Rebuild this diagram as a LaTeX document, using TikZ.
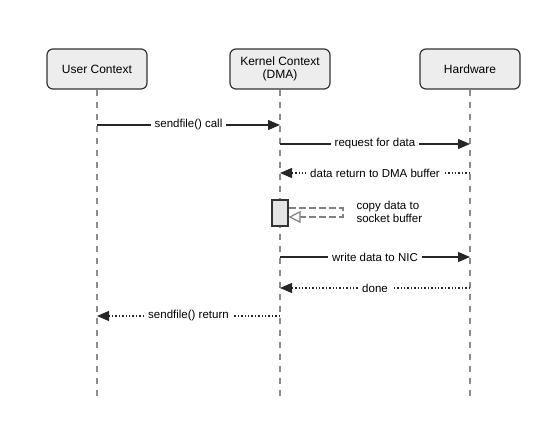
\documentclass[tikz,border=0pt]{standalone}
\usepackage{fontspec}
\setmainfont{Liberation Sans}
\usetikzlibrary{arrows.meta}

\begin{document}
\begin{tikzpicture}[x=1pt,y=-1pt,font=\fontsize{11.5}{13.5}\selectfont,>={Triangle[length=12pt,width=10pt]},
  actor/.style={draw=black!80,line width=1.2pt,fill=black!7,rounded corners=6pt,minimum width=100pt,minimum height=40pt,align=center,font=\fontsize{12}{13.5}\selectfont},
  lifeline/.style={black!45,line width=1.6pt,dash pattern=on 6pt off 6pt},
  call/.style={->,black!85,line width=1.2pt},
  reply/.style={->,black!85,line width=1.2pt,dash pattern=on 1.4pt off 2pt},
  msg/.style={fill=white,inner xsep=4pt,inner ysep=1.5pt,text=black}]
  \useasboundingbox (0,0) rectangle (540,422);
  % participants
  \node[actor] (user) at (97,69) {User Context};
  \node[actor] (kernel) at (280,69) {Kernel Context\\(DMA)};
  \node[actor] (hw) at (470,69) {Hardware};
  \coordinate (userend) at (97,398);
  \coordinate (kernelend) at (280,398);
  \coordinate (hwend) at (470,398);
  \draw[lifeline] (user.south) -- (userend);
  \draw[lifeline] (kernel.south) -- (kernelend);
  \draw[lifeline] (hw.south) -- (hwend);
  % message points on the lifelines
  \coordinate (u1) at (97,125);   \coordinate (k1) at (280,125);
  \coordinate (k2) at (280,144);  \coordinate (h2) at (470,144);
  \coordinate (k3) at (280,173);  \coordinate (h3) at (470,173);
  \coordinate (k4) at (280,257);  \coordinate (h4) at (470,257);
  \coordinate (k5) at (280,288);  \coordinate (h5) at (470,288);
  \coordinate (u6) at (97,316);   \coordinate (k6) at (280,316);
  \draw[call] (u1) -- node[msg] {sendfile() call} (k1);
  \draw[call] (k2) -- node[msg] {request for data} (h2);
  \draw[reply] (h3) -- node[msg] {data return to DMA buffer} (k3);
  % self call
  \node[draw=black!80,line width=1.2pt,fill=black!10,minimum width=16pt,minimum height=26pt,inner sep=0pt] (act) at (280,213) {};
  \coordinate (s1) at (343,208);
  \coordinate (s2) at (343,217);
  \draw[black!50,line width=1.2pt,dash pattern=on 7pt off 3pt,-{Triangle[open,length=12pt,width=12pt]}]
    (act.east |- s1) -- (s1) -- (s2) -- (act.east |- s2);
  \node[anchor=west,align=left] (copy) at (353,212) {copy data to\\socket buffer};
  \draw[call] (k4) -- node[msg] {write data to NIC} (h4);
  \draw[reply] (h5) -- node[msg] {done} (k5);
  \draw[reply] (k6) -- node[msg] {sendfile() return} (u6);
\end{tikzpicture}
\end{document}
